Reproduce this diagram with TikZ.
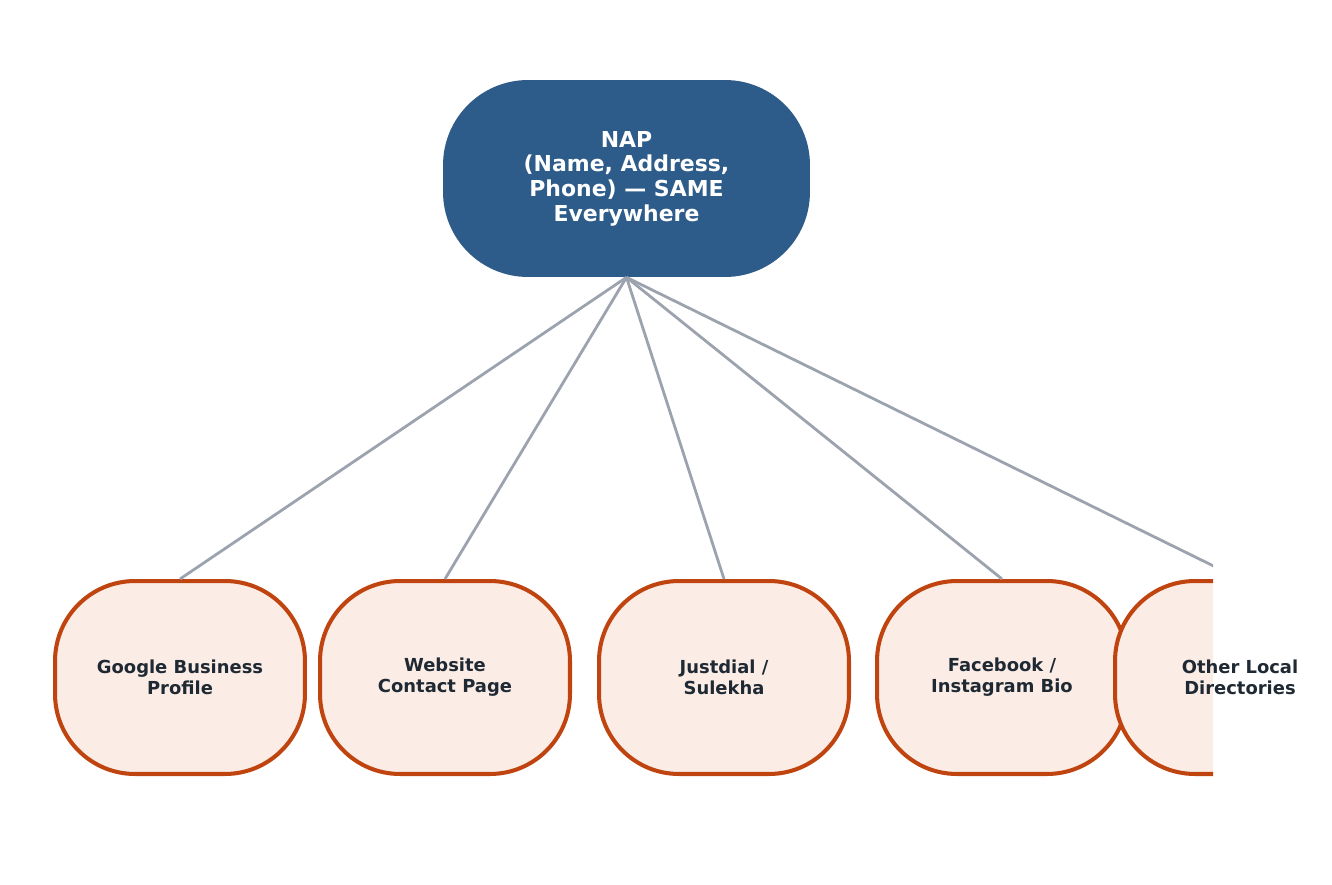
\documentclass[tikz,border=0pt]{standalone}
\usepackage{fontspec}
\setmainfont{DejaVu Sans}
\definecolor{napblue}{HTML}{2D5C8A}
\definecolor{sitefill}{HTML}{FBEDE6}
\definecolor{siteedge}{HTML}{C0440F}
\definecolor{linkgray}{HTML}{9CA3AF}
\definecolor{sitetext}{HTML}{1F2933}
\begin{document}
\begin{tikzpicture}[
    x = 0.02cm, y = -0.02cm,
    %
    hub/.style = {fill = napblue, text = white,
      font = \bfseries\fontsize{12.5}{14}\selectfont,
      align = center, rounded corners = 1.7cm,
      minimum width = 7.34cm, minimum height = 3.94cm},
    %
    site/.style = {fill = sitefill, draw = siteedge,
      line width = 2.3pt, text = sitetext,
      font = \bfseries\fontsize{10.2}{12}\selectfont,
      align = center, rounded corners = 1.6cm,
      minimum width = 5.0cm, minimum height = 3.86cm},
    %
    link/.style = {draw = linkgray, line width = 1.6pt},
    ]

    \useasboundingbox (0, 0) rectangle (1332, 885);

    \node at (626.5, 178.5) [hub, name = nap]
    {NAP\\(Name, Address,\\Phone) --- SAME\\Everywhere};

    \begin{scope}
    \clip (0, 0) rectangle (1213, 885);

    \node at (180, 677.5) [site, name = gbp] {Google Business\\Profile};
    \node at (445, 677.5) [site, name = web] {Website\\Contact Page};
    \node at (724, 677.5) [site, name = jd] {Justdial /\\Sulekha};
    \node at (1002, 677.5) [site, name = fb] {Facebook /\\Instagram Bio};
    \node at (1240, 677.5) [site, name = other] {};

    \draw [link] (nap.south) -- (gbp.north);
    \draw [link] (nap.south) -- (web.north);
    \draw [link] (nap.south) -- (jd.north);
    \draw [link] (nap.south) -- (fb.north);
    \draw [link] (nap.south) -- (other.north);
    \end{scope}

    \node at (other) [text = sitetext, align = center,
      font = \bfseries\fontsize{10.2}{12}\selectfont, name = otherlabel]
    {Other Local\\Directories};

  \end{tikzpicture}
\end{document}
